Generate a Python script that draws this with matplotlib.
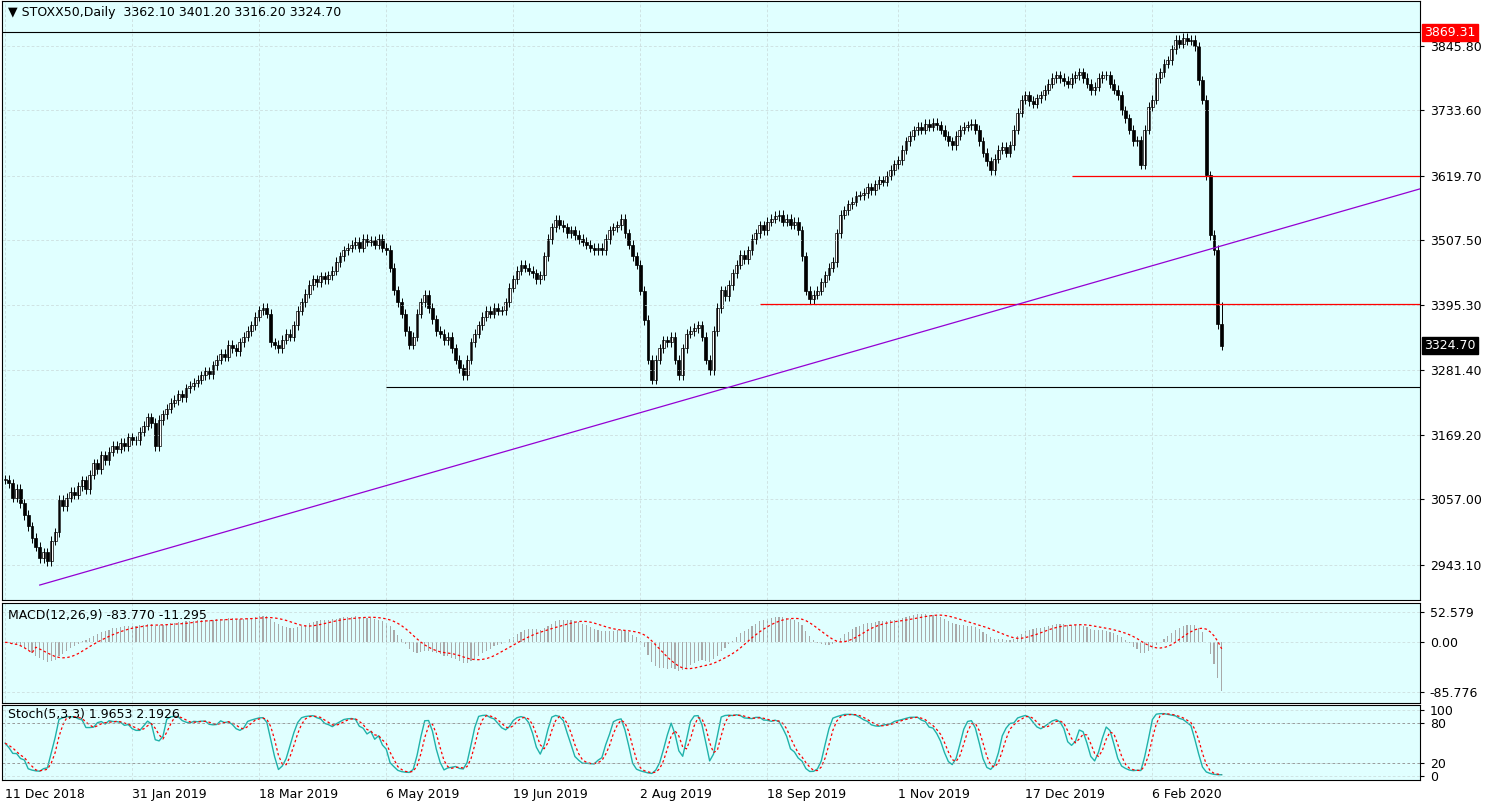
import numpy as np
import matplotlib
matplotlib.use("Agg")
import matplotlib.pyplot as plt

# daily closes (bar 0 = 11 Dec 2018)
closes = [
    3091, 3085, 3060, 3075, 3050, 3030, 3010, 2990, 2975, 2955,
    2965, 2950, 2985, 3000, 3056, 3045, 3060, 3070, 3065, 3080,
    3090, 3075, 3100, 3120, 3110, 3134, 3125, 3140, 3150, 3145,
    3155, 3150, 3165, 3160, 3160, 3175, 3185, 3200, 3190, 3150,
    3195, 3205, 3215, 3225, 3230, 3240, 3235, 3250, 3255, 3260,
    3265, 3273, 3280, 3275, 3290, 3300, 3310, 3305, 3326, 3320,
    3315, 3330, 3340, 3350, 3360, 3375, 3386, 3390, 3380, 3330,
    3326, 3320, 3335, 3345, 3340, 3360, 3385, 3400, 3415, 3430,
    3440, 3435, 3445, 3440, 3447, 3455, 3470, 3480, 3490, 3495,
    3500, 3505, 3495, 3510, 3505, 3508, 3500, 3510, 3495, 3491,
    3460, 3421, 3400, 3380, 3350, 3326, 3340, 3380, 3400, 3413,
    3390, 3370, 3350, 3345, 3334, 3340, 3320, 3300, 3285, 3273,
    3300, 3330, 3345, 3360, 3375, 3385, 3380, 3390, 3385, 3386,
    3400, 3425, 3440, 3455, 3465, 3460, 3455, 3450, 3440, 3447,
    3480, 3510, 3530, 3543, 3535, 3530, 3520, 3525, 3517, 3510,
    3505, 3500, 3495, 3490, 3495, 3491, 3510, 3525, 3530, 3534,
    3545, 3520, 3500, 3480, 3465, 3420, 3369, 3300, 3265, 3300,
    3320, 3334, 3330, 3340, 3300, 3273, 3320, 3345, 3350, 3355,
    3360, 3340, 3300, 3282, 3350, 3390, 3421, 3410, 3430, 3450,
    3465, 3482, 3475, 3490, 3510, 3520, 3534, 3525, 3540, 3545,
    3550, 3552, 3540, 3545, 3535, 3540, 3525, 3480, 3420, 3405,
    3413, 3420, 3435, 3447, 3460, 3470, 3520, 3552, 3560, 3570,
    3575, 3585, 3586, 3590, 3600, 3595, 3605, 3612, 3610, 3620,
    3630, 3640, 3647, 3665, 3680, 3690, 3699, 3705, 3700, 3710,
    3705, 3712, 3708, 3700, 3690, 3680, 3673, 3690, 3700, 3705,
    3708, 3710, 3700, 3680, 3660, 3645, 3630, 3650, 3665, 3670,
    3660, 3673, 3700, 3730, 3752, 3760, 3750, 3745, 3755, 3760,
    3770, 3780, 3790, 3795, 3790, 3785, 3780, 3790, 3795, 3800,
    3790, 3780, 3769, 3775, 3790, 3795, 3795, 3780, 3770, 3760,
    3734, 3720, 3700, 3680, 3682, 3639, 3700, 3740, 3752, 3790,
    3800, 3815, 3821, 3840, 3856, 3850, 3860, 3855, 3856, 3845,
    3786, 3752, 3621, 3517, 3491, 3362.1, 3324.7,
]
date_labels = ["11 Dec 2018", "31 Jan 2019", "18 Mar 2019", "6 May 2019", "19 Jun 2019",
               "2 Aug 2019", "18 Sep 2019", "1 Nov 2019", "17 Dec 2019", "6 Feb 2020"]
date_bars = [0, 33, 66, 99, 132, 165, 198, 232, 265, 298]
price_ticks = [2943.10, 3057.00, 3169.20, 3281.40, 3395.30, 3507.50, 3619.70, 3733.60, 3845.80]
level_black = 3252.0
level_red1 = 3397.0
level_red2 = 3620.0
trend = [(9, 2908.0), (370, 3602.0)]
last_ohlc = (3362.10, 3401.20, 3316.20, 3324.70)
high_mark = 3869.31

c = np.array(closes, dtype=float)
o = np.r_[c[0], c[:-1]]
o[-1] = last_ohlc[0]
wick = 8.0
h = np.maximum(o, c) + wick
l = np.minimum(o, c) - wick
h[-1], l[-1] = last_ohlc[1], last_ohlc[2]
n = len(c)
x = np.arange(n)

W, H = 1494, 807
fig = plt.figure(figsize=(W / 100, H / 100), dpi=100)
bg = "#E0FFFF"
fig.patch.set_facecolor("white")

def px_axes(left, top, right, bottom):
    return fig.add_axes([left / W, 1 - bottom / H, (right - left) / W, (bottom - top) / H])

xl = (-0.8, 367.5)
ax = px_axes(2, 1, 1420, 600)
ax1 = px_axes(2, 603, 1420, 703)
ax2 = px_axes(2, 705, 1420, 780)
for a in (ax, ax1, ax2):
    a.set_facecolor(bg)
    a.set_xlim(*xl)
    a.yaxis.tick_right()
    a.tick_params(axis="y", labelsize=9, length=3, pad=4)
    a.tick_params(axis="x", length=0)
    for s in a.spines.values():
        s.set_color("black")
        s.set_linewidth(0.8)
    a.set_xticks(date_bars)
    a.grid(True, color="#C8D8D8", ls=(0, (4, 3)), lw=0.5)
    a.set_xticklabels([])

# candles
ax.set_ylim(2882, 3924)
ax.vlines(x, l, h, color="black", lw=0.7)
up = c >= o
body_h = np.maximum(np.abs(c - o), 1.0)
ax.bar(x[up], body_h[up], bottom=o[up], width=0.75, color="white", edgecolor="black", lw=0.5)
ax.bar(x[~up], body_h[~up], bottom=c[~up], width=0.75, color="black", edgecolor="black", lw=0.5)
ax.set_yticks(price_ticks)
ax.set_yticklabels([f"{p:.2f}" for p in price_ticks])
ax.hlines(level_black, 99, xl[1], color="black", lw=0.8)
ax.hlines(level_red1, 196, xl[1], color="red", lw=0.9)
ax.hlines(level_red2, 277, xl[1], color="red", lw=0.9)
ax.axhline(high_mark, color="black", lw=0.8)
ax.plot([p[0] for p in trend], [p[1] for p in trend], color="#9400D3", lw=0.9)
ax.text(1.003, high_mark, f"{high_mark:.2f}", transform=ax.get_yaxis_transform(), va="center",
        ha="left", fontsize=9, color="white", bbox=dict(fc="red", ec="red", pad=1.5), clip_on=False)
ax.text(1.003, c[-1], f"{c[-1]:.2f}", transform=ax.get_yaxis_transform(), va="center",
        ha="left", fontsize=9, color="white", bbox=dict(fc="black", ec="black", pad=1.5), clip_on=False)
ax.text(0.004, 0.992, "\u25bc STOXX50,Daily  %.2f %.2f %.2f %.2f" % last_ohlc,
        transform=ax.transAxes, va="top", fontsize=9)

# MACD(12,26,9)
def ema(v, span):
    a = 2 / (span + 1)
    out = np.empty_like(v)
    out[0] = v[0]
    for i in range(1, len(v)):
        out[i] = a * v[i] + (1 - a) * out[i - 1]
    return out

macd = ema(c, 12) - ema(c, 26)
sig = np.convolve(macd, np.ones(9) / 9, mode="full")[:n]
sig[:8] = macd[:8]
ax1.bar(x, macd, width=0.3, color="#A9A9A9")
ax1.plot(x, sig, color="red", ls=(0, (2, 2)), lw=0.9)
ax1.set_ylim(-105, 68)
ax1.set_yticks([52.579, 0.0, -85.776])
ax1.set_yticklabels(["52.579", "0.00", "-85.776"])
ax1.text(0.004, 0.94, "MACD(12,26,9) %.3f %.3f" % (macd[-1], sig[-1]), transform=ax1.transAxes,
         va="top", fontsize=9)

# Stoch(5,3,3)
hh = np.array([h[max(0, i - 4):i + 1].max() for i in range(n)])
ll = np.array([l[max(0, i - 4):i + 1].min() for i in range(n)])
raw = 100 * (c - ll) / (hh - ll)
k = np.array([raw[max(0, i - 2):i + 1].mean() for i in range(n)])
d = np.array([k[max(0, i - 2):i + 1].mean() for i in range(n)])
ax2.plot(x, k, color="#20B2AA", lw=1.0)
ax2.plot(x, d, color="red", ls=(0, (2, 2)), lw=0.9)
ax2.set_ylim(-6, 108)
ax2.set_yticks([0, 20, 80, 100])
ax2.axhline(20, color="#909090", ls=(0, (3, 3)), lw=0.6)
ax2.axhline(80, color="#909090", ls=(0, (3, 3)), lw=0.6)
ax2.text(0.004, 0.96, "Stoch(5,3,3) %.4f %.4f" % (k[-1], d[-1]), transform=ax2.transAxes,
         va="top", fontsize=9)

ax2.set_xticklabels(date_labels, fontsize=9, ha="left")
ax2.tick_params(axis="x", pad=6)

fig.savefig("out.png", dpi=100, facecolor="white")
